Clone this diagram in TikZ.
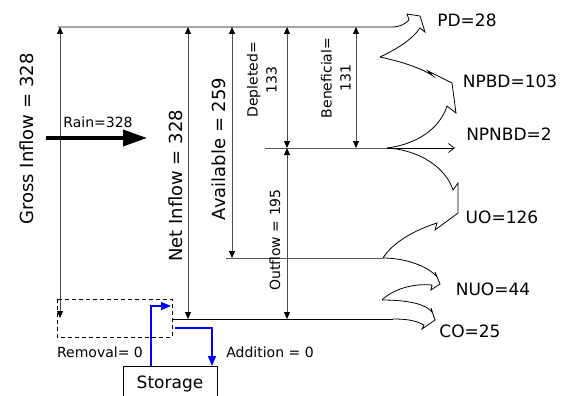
\documentclass[tikz,border=0pt]{standalone}
\usepackage{fontspec}
\setmainfont{DejaVu Sans}
\usetikzlibrary{arrows.meta}
\begin{document}
\begin{tikzpicture}[x=1pt,y=-1pt,
  lbl/.style={inner sep=0pt, anchor=base, font=\fontsize{17}{20}\selectfont},
  big/.style={inner sep=0pt, rotate=90, anchor=base, font=\fontsize{18}{21}\selectfont},
  small/.style={inner sep=0pt, font=\fontsize{14}{19}\selectfont},
  dim/.style={draw=black!70, line width=0.8pt, {Triangle[length=7pt,width=6pt,color=black]}-{Triangle[length=7pt,width=6pt,color=black]}},
  flow/.style={draw=black, line width=0.8pt, line join=miter},
  gline/.style={draw=black!65, line width=0.9pt},
  blu/.style={draw=blue, line width=1.2pt, -{Triangle[length=10pt,width=8pt]}},
]
\useasboundingbox (0,0) rectangle (562,396);

% coordinates
\coordinate (tl) at (58,27);
\coordinate (tr) at (392,27);
\coordinate (v1) at (380,57);
\coordinate (v2) at (382,300);
\coordinate (m1) at (265,148);
\coordinate (m2) at (387,148);
\coordinate (m3) at (455,148);
\coordinate (u1) at (226,258);
\coordinate (u2) at (383,258);
\coordinate (b1) at (172,319);
\coordinate (b2) at (393,319);

% dimension arrows
\draw[dim] (60,27) coordinate (g1) -- (60,318) coordinate (g2);
\draw[dim] (188,27) coordinate (n1) -- (188,319) coordinate (n2);
\draw[dim] (232,27) coordinate (a1) -- (232,258) coordinate (a2);
\draw[dim] (287,27) coordinate (d1) -- (287,148) coordinate (d2);
\draw[dim] (356,27) coordinate (e1) -- (356,148) coordinate (e2);
\draw[dim] (287,148) coordinate (o1) -- (287,319) coordinate (o2);

% horizontal lines
\draw[gline] (m1) -- (m2);
\draw[flow, -{Straight Barb[length=6pt,width=9pt]}] (m2) -- (m3);
\draw[gline] (u1) -- (u2);
\draw[flow] (b1) -- (b2);

% PD / NPBD
\draw[flow] (tl) -- (tr) .. controls (400,27) and (405,24) .. (409,20) -- (407,14) -- (420,16) -- (425,32) -- (420,28) .. controls (412,40) and (395,50) .. (v1);
\draw[flow] (v1) .. controls (398,61) and (420,67) .. (433,76) -- (428,71) -- (452,83) -- (456,113) -- (447,106) .. controls (440,128) and (418,144) .. (m2);
% UO
\draw[flow] (m2) .. controls (420,150) and (446,168) .. (453,190) -- (458,183) -- (458,213) -- (435,230) -- (437,223) .. controls (415,230) and (393,242) .. (u2);
% NUO / CO
\draw[flow] (u2) .. controls (405,258) and (428,266) .. (437,277) -- (435,272) -- (440,284) -- (431,290) -- (432,285) .. controls (412,283) and (392,290) .. (v2);
\draw[flow] (v2) .. controls (400,300) and (424,302) .. (432,312) -- (431,308) -- (435,320) -- (422,329) -- (424,325) .. controls (415,320) and (405,319) .. (b2);

% rain
\coordinate (r0) at (46,138);
\coordinate (r1) at (147,138);
\draw[line width=3.5pt, -{Triangle[length=24pt,width=16pt]}] (r0) -- (r1);

% dashed box
\draw[dashed, line width=0.8pt, dash pattern=on 4pt off 3pt] (57,299) rectangle (172,337);

% storage
\node[draw, line width=0.8pt, minimum width=94pt, minimum height=40pt, anchor=north west, inner sep=0pt] (st) at (123,366) {};
\coordinate (s1) at (151,366);
\coordinate (s2) at (212,366);
\coordinate (rm) at (171,306);
\coordinate (a0) at (175,328);
\draw[blu] (s1) |- (rm);
\draw[blu] (a0) -| (s2);

% labels
\node[big] (gi) at (33,139) {Gross Inflow = 328};
\node[big] (ni) at (182,186) {Net Inflow = 328};
\node[big] (av) at (225,149) {Available = 259};
\node[small, rotate=90, align=center] (dp) at (262,80) {Depleted=\\133};
\node[small, rotate=90, align=center] (bn) at (336,78) {Beneficial=\\131};
\node[small, rotate=90, anchor=base] (of) at (280,240) {Outflow = 195};
\node[small, anchor=base] (rn) at (98,127) {Rain=328};
\node[small, anchor=base] (rv) at (100,357) {Removal= 0};
\node[small, anchor=base] (ad) at (270,357) {Addition = 0};
\node[lbl] (stt) at (170,388) {Storage};

\node[lbl] (pd) at (467,27) {PD=28};
\node[lbl] (npbd) at (510,87) {NPBD=103};
\node[lbl] (npnbd) at (509,140) {NPNBD=2};
\node[lbl] (uo) at (502,223) {UO=126};
\node[lbl] (nuo) at (493,295) {NUO=44};
\node[lbl] (co) at (470,337) {CO=25};
\end{tikzpicture}
\end{document}
